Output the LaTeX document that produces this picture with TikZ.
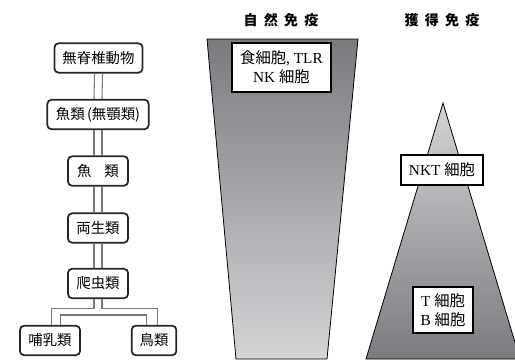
\documentclass[tikz,border=0pt]{standalone}
\usepackage{fontspec}
\setmainfont{Liberation Serif}
\newfontfamily\cjk{Noto Sans CJK JP}
\usetikzlibrary{calc}
\definecolor{darkg}{RGB}{122,123,126}
\definecolor{lightg}{RGB}{212,213,215}
\definecolor{connc}{RGB}{120,120,120}
\tikzset{
  animal/.style={draw=black!85, line width=1.3pt, rounded corners=3pt, fill=white, inner sep=0pt, minimum height=22pt, font=\cjk\fontsize{10.8}{12}\selectfont},
  cellbox/.style={draw=black, line width=1.3pt, fill=white, inner sep=0pt, align=center, font=\fontsize{11.5}{14}\selectfont},
  conn/.style={draw=connc, line width=0.8pt},
  title/.style={font=\cjk\bfseries\fontsize{10.5}{12}\selectfont},
  pyr/.style={draw=black, line width=0.6pt}
}
\begin{document}
\begin{tikzpicture}[x=0.75pt,y=-0.75pt]
\useasboundingbox (0,0) rectangle (515,361);
\clip (0,0) rectangle (515,361);
% titles
\node[title] (t1) at (281,20) {自\hspace{0.45em}然\hspace{0.45em}免\hspace{0.45em}疫};
\node[title] (t2) at (442,20) {獲\hspace{0.45em}得\hspace{0.45em}免\hspace{0.45em}疫};
% shapes
\shade[top color=darkg, bottom color=lightg] (207,39) -- (358,39) -- (327,359) -- (236,359) -- cycle;
\draw[pyr] (207,39) -- (358,39) -- (327,359) -- (236,359) -- cycle;
\shade[top color=lightg, bottom color=darkg] (443,103) -- (520,359) -- (366,359) -- cycle;
\draw[pyr] (443,103) -- (520,359) -- (366,359) -- cycle;
% animal boxes
\node[animal, minimum width=66pt] (inv) at (98.5,58) {無脊椎動物};
\node[animal, minimum width=76pt] (agn) at (98,114.5) {魚類\,(無顎類)};
\node[animal, minimum width=45pt] (fish) at (98,171) {魚\hspace{0.9em}類};
\node[animal, minimum width=45pt] (amp) at (98,228) {両生類};
\node[animal, minimum width=45pt] (rep) at (98,283.5) {爬虫類};
\node[animal, minimum width=45pt] (mam) at (50,340.5) {哺乳類};
\node[animal, minimum width=33.5pt] (bird) at (154,340.5) {鳥類};
% connectors
\foreach \a/\b in {inv/agn, agn/fish, fish/amp, amp/rep}{
  \draw[conn] ([xshift=-3pt]\a.south) -- ([xshift=-3pt]\b.north);
  \draw[conn] ([xshift=3pt]\a.south) -- ([xshift=3pt]\b.north);
}
\draw[conn] ([xshift=-3pt]rep.south) -- ++(0,9) -| ([xshift=1.3pt]mam.north);
\draw[conn] ([xshift=3pt]rep.south) -- ++(0,9) -| ([xshift=2.3pt]bird.north);
\draw[conn] ([xshift=8pt]mam.north) -- ++(0,-10) -| ([xshift=-5.3pt]bird.north);
% cell boxes
\node[cellbox, minimum width=74pt, minimum height=36.5pt] (innate) at (281.5,67.5) {{\cjk 食細胞}, TLR\\NK {\cjk 細胞}};
\node[cellbox, minimum width=61.5pt, minimum height=22.5pt] (nkt) at (442,170) {NKT {\cjk 細胞}};
\node[cellbox, minimum width=45pt, minimum height=34.5pt] (tb) at (443,310) {T {\cjk 細胞}\\B {\cjk 細胞}};
\end{tikzpicture}
\end{document}
